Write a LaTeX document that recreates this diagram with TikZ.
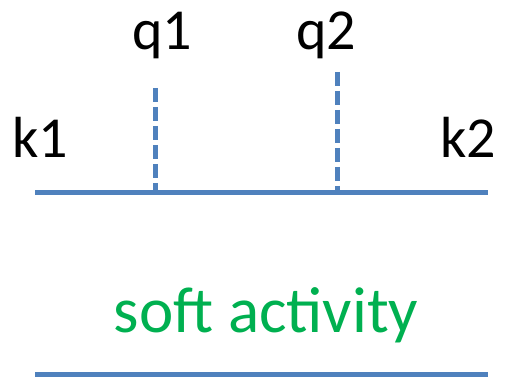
\documentclass[tikz,border=0pt]{standalone}
\usepackage{fontspec}
\setmainfont{Carlito}
\definecolor{lineblue}{HTML}{4F81BD}
\definecolor{softgreen}{HTML}{00B050}
\begin{document}
\begin{tikzpicture}[x=1pt,y=1pt,
  lbl/.style={font=\fontsize{58}{62}\selectfont, anchor=base, inner sep=0pt},
  solidline/.style={draw=lineblue, line width=5.5pt},
  dashline/.style={draw=lineblue, line width=5pt, dash pattern=on 14pt off 5pt}]
\useasboundingbox (0,0) rectangle (509,377);
% labels
\node[lbl] (q1) at (162,327) {q1};
\node[lbl] (q2) at (326,327) {q2};
\node[lbl] (k1) at (40,219) {k1};
\node[lbl] (k2) at (468,219) {k2};
\node[lbl, font=\fontsize{65}{70}\selectfont, text=softgreen] (soft) at (266,44) {soft activity};
% top line
\coordinate (tl) at (35,184.5);
\coordinate (tr) at (488,184.5);
\draw[solidline] (tl) -- (tr);
% dashed verticals
\coordinate (d1t) at (155,289);
\coordinate (d1b) at (155,186);
\coordinate (d2t) at (337,305);
\coordinate (d2b) at (337,186);
\draw[dashline] (d1t) -- (d1b);
\draw[dashline] (d2t) -- (d2b);
% bottom line
\coordinate (bl) at (35,2);
\coordinate (br) at (488,2);
\draw[solidline] (bl) -- (br);
\end{tikzpicture}
\end{document}
